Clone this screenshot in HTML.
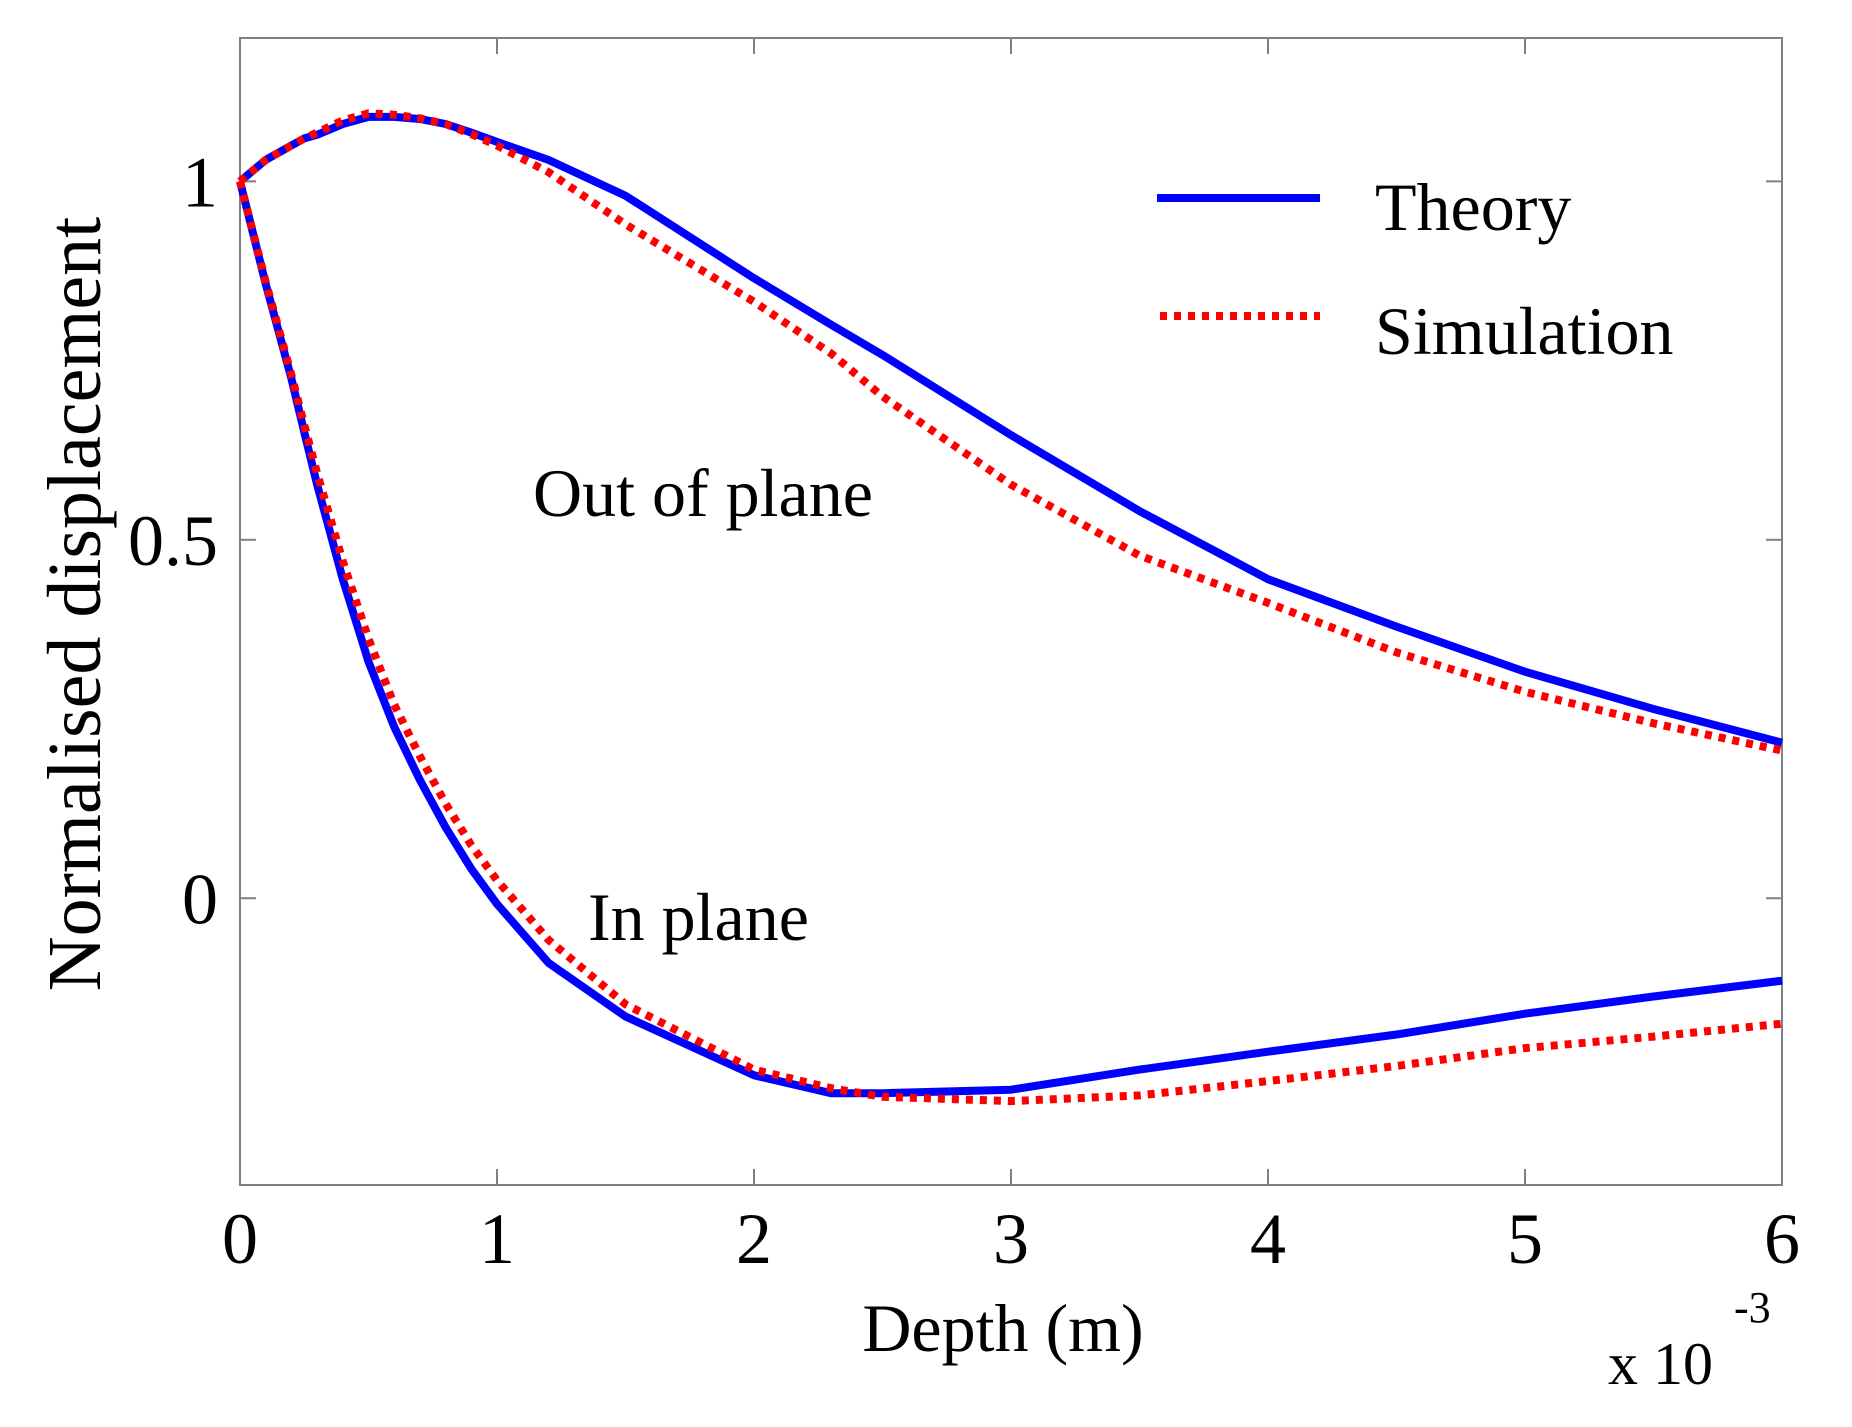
<!DOCTYPE html>
<html><head><meta charset="utf-8"><style>
html,body{margin:0;padding:0;background:#fff;}
svg{display:block;font-family:"Liberation Serif",serif;}
</style></head><body>
<svg id="chart" width="1852" height="1427" viewBox="0 0 1852 1427" xmlns="http://www.w3.org/2000/svg">
<rect width="1852" height="1427" fill="#fff"/>
<g id="axes"></g>
<g id="series"></g>
<text x="1003" y="1351" font-size="68" text-anchor="middle">Depth (m)</text>
<text x="1608" y="1384" font-size="60">x 10</text>
<text x="1734" y="1322" font-size="44">-3</text>
<text transform="translate(100,604) rotate(-90)" font-size="76" text-anchor="middle">Normalised displacement</text>
<text x="533" y="516" font-size="68">Out of plane</text>
<text x="588" y="940" font-size="68">In plane</text>
<g>
<line x1="1157" y1="198" x2="1320" y2="198" stroke="#0000ff" stroke-width="8"/>
<text x="1375" y="230" font-size="68">Theory</text>
<line x1="1160" y1="316" x2="1320" y2="316" stroke="#ff0000" stroke-width="8" stroke-dasharray="7,7"/>
<text x="1375" y="354" font-size="68">Simulation</text>
</g>
</svg>
<script>
const xTicks = [0,1,2,3,4,5,6];
const yTicks = [0,0.5,1];
const yTickLabels = ["0","0.5","1"];
const depth = [0,0.1,0.2,0.25,0.3,0.4,0.5,0.6,0.7,0.8,0.9,1.0,1.2,1.5,2,2.3,2.5,3,3.5,4,4.5,5,5.5,6];
const theoryOut = [1.0,1.03,1.05,1.06,1.065,1.08,1.09,1.09,1.087,1.08,1.068,1.055,1.03,0.98,0.865,0.8,0.758,0.646,0.54,0.445,0.379,0.316,0.264,0.217];
const simOut = [1.0,1.03,1.05,1.06,1.068,1.085,1.095,1.093,1.088,1.08,1.066,1.05,1.013,0.94,0.832,0.76,0.70,0.577,0.478,0.412,0.343,0.288,0.244,0.206];
const theoryIn = [1.0,0.857,0.725,0.65,0.577,0.445,0.33,0.239,0.165,0.099,0.041,-0.008,-0.09,-0.165,-0.247,-0.272,-0.272,-0.267,-0.239,-0.214,-0.19,-0.161,-0.137,-0.115];
const simIn = [1.0,0.86,0.73,0.66,0.593,0.47,0.362,0.27,0.198,0.132,0.074,0.025,-0.058,-0.148,-0.239,-0.265,-0.277,-0.283,-0.275,-0.255,-0.234,-0.209,-0.193,-0.175];

const L=240,R=1782,T=38,B=1185,X0=0,X1=6,Y0=-0.4,Y1=1.2;
const sx=v=>L+(v-X0)/(X1-X0)*(R-L);
const sy=v=>B-(v-Y0)/(Y1-Y0)*(B-T);
const NS="http://www.w3.org/2000/svg";
const axes=document.getElementById('axes');
const series=document.getElementById('series');
function mk(tag,attrs,parent){const e=document.createElementNS(NS,tag);for(const k in attrs)e.setAttribute(k,attrs[k]);parent.appendChild(e);return e;}
const frame=mk('rect',{x:L,y:T,width:R-L,height:B-T,fill:'none',stroke:'#808080','stroke-width':2},axes);


xTicks.forEach(v=>{
  const x=sx(v);
  const t1=mk('line',{x1:x,y1:B,x2:x,y2:B-16,stroke:'#808080','stroke-width':2},axes);
  
  
  const t2=mk('line',{x1:x,y1:T,x2:x,y2:T+16,stroke:'#808080','stroke-width':2},axes);
  
  
  const tx=mk('text',{x:x,y:1263,'font-size':72,'text-anchor':'middle'},axes);
  tx.textContent=String(v);
  
  
});
yTicks.forEach((v,i)=>{
  const y=sy(v);
  const t1=mk('line',{x1:L,y1:y,x2:L+16,y2:y,stroke:'#808080','stroke-width':2},axes);
  
  
  const t2=mk('line',{x1:R,y1:y,x2:R-16,y2:y,stroke:'#808080','stroke-width':2},axes);
  
  
  const tx=mk('text',{x:218,y:y+25,'font-size':72,'text-anchor':'end'},axes);
  tx.textContent=yTickLabels[i];
  
  
});
function path(xs,ys){return xs.map((x,i)=>(i?'L':'M')+sx(x).toFixed(1)+','+sy(ys[i]).toFixed(1)).join(' ');}
const p1=mk('path',{d:path(depth,theoryOut),fill:'none',stroke:'#0000ff','stroke-width':8,'stroke-linejoin':'round'},series);


const p2=mk('path',{d:path(depth,theoryIn),fill:'none',stroke:'#0000ff','stroke-width':8,'stroke-linejoin':'round'},series);


const p3=mk('path',{d:path(depth,simOut),fill:'none',stroke:'#ff0000','stroke-width':8,'stroke-dasharray':'7,7'},series);


const p4=mk('path',{d:path(depth,simIn),fill:'none',stroke:'#ff0000','stroke-width':8,'stroke-dasharray':'7,7'},series);


</script>
</body></html>
